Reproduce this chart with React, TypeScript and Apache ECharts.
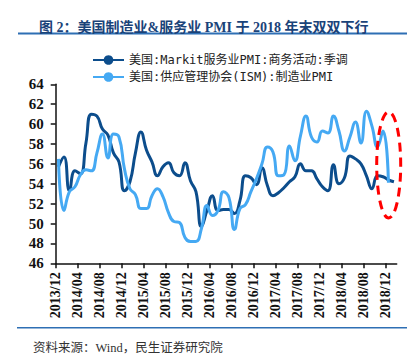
import React, { useEffect, useRef } from "react";
import * as echarts from "echarts";

// Month index 0 = 2013/12; one tick label every 4 months
const tickLabels = [
  "2013/12", "2014/04", "2014/08", "2014/12", "2015/04", "2015/08", "2015/12", "2016/04",
  "2016/08", "2016/12", "2017/04", "2017/08", "2017/12", "2018/04", "2018/08", "2018/12",
];

// 美国:Markit服务业PMI:商务活动:季调, 2013/12 – 2019/01
const markitServices = [
  55.7,
  56.7, 53.3, 55.3, 55.0, 58.1, 61.0, 60.8, 59.5, 58.9, 57.1, 56.2, 53.3,
  54.2, 57.1, 59.2, 57.4, 56.2, 54.8, 55.7, 56.1, 55.1, 54.8, 56.1, 54.3,
  53.2, 49.7, 51.3, 52.8, 51.3, 51.4, 51.4, 51.0, 52.3, 54.8, 54.6, 53.9,
  55.6, 53.8, 52.8, 53.1, 53.6, 54.2, 54.7, 56.0, 55.3, 55.3, 54.5, 53.7,
  53.3, 55.9, 54.0, 54.6, 56.8, 56.5, 56.0, 54.8, 53.5, 54.8, 54.7, 54.4,
  54.2,
];

// 美国:供应管理协会(ISM):制造业PMI, 2013/12 – 2018/12
const ismManufacturing = [
  56.5,
  51.3, 53.2, 53.7, 54.9, 55.4, 55.3, 57.1, 59.0, 56.6, 59.0, 58.7, 55.5,
  53.5, 52.9, 51.5, 51.5, 52.8, 53.5, 52.7, 51.1, 50.2, 50.1, 48.6, 48.2,
  48.2, 49.5, 51.8, 50.8, 51.3, 53.2, 52.6, 49.4, 51.5, 51.9, 53.2, 54.5,
  56.0, 57.7, 57.2, 54.8, 54.9, 57.8, 56.3, 58.8, 60.8, 58.7, 58.2, 59.3,
  59.1, 60.8, 59.3, 57.3, 58.7, 60.2, 58.1, 61.3, 59.8, 57.7, 59.3, 54.1,
];

const seriesNames = ["美国:Markit服务业PMI:商务活动:季调", "美国:供应管理协会(ISM):制造业PMI"];

const TICK_STEP = 4;
const X_MAX = 62;

const serif = "'Liberation Serif', 'Times New Roman', 'Noto Sans CJK SC', serif";
const mono = "'DejaVu Sans Mono', 'Noto Sans CJK SC', monospace";

export default function App() {
  const ref = useRef<HTMLDivElement>(null);

  useEffect(() => {
    if (!ref.current) return;
    const chart = echarts.init(ref.current, undefined, { renderer: "svg" });
    const tickValues = tickLabels.map((_, i) => i * TICK_STEP);
    const toPoints = (arr: number[]) => arr.map((v, i) => [i + 0.5, v]);

    chart.setOption({
      animation: false,
      backgroundColor: "#ffffff",
      title: {
        text: "图 2：美国制造业&服务业 PMI 于 2018 年末双双下行",
        left: 34,
        top: 15,
        textStyle: { fontSize: 14, fontWeight: "bold", color: "#1a4379", fontFamily: serif },
      },
      legend: {
        data: seriesNames,
        orient: "vertical",
        left: 87,
        top: 49,
        itemGap: 5,
        itemWidth: 31,
        itemHeight: 12,
        textStyle: { fontSize: 12, color: "#222", fontFamily: mono },
      },
      grid: { left: 55.7, right: 22.3, top: 84.3, bottom: 99.7, containLabel: false },
      xAxis: {
        type: "value",
        min: 0,
        max: X_MAX,
        interval: TICK_STEP,
        splitLine: { show: false },
        axisLine: { show: true, lineStyle: { color: "#111", width: 1.5 } },
        axisTick: { show: true, length: 5, customValues: tickValues, lineStyle: { color: "#111", width: 1.5 } },
        axisLabel: {
          customValues: tickValues,
          rotate: 90,
          margin: 9,
          fontSize: 14,
          fontWeight: "bold",
          fontFamily: serif,
          color: "#111",
          formatter: (v: number) => tickLabels[Math.round(v / TICK_STEP)] ?? "",
        },
      },
      yAxis: {
        type: "value",
        min: 46,
        max: 64,
        interval: 2,
        splitLine: { show: false },
        axisLine: { show: true, lineStyle: { color: "#111", width: 1.5 } },
        axisTick: { show: true, length: 5, lineStyle: { color: "#111", width: 1.5 } },
        axisLabel: { margin: 12, fontSize: 15, fontWeight: "bold", fontFamily: serif, color: "#111" },
      },
      series: [
        {
          name: seriesNames[0],
          type: "line",
          data: toPoints(markitServices),
          smooth: 0.5,
          symbol: "none",
          lineStyle: { color: "#0c4d8c", width: 3 },
          itemStyle: { color: "#0c4d8c" },
        },
        {
          name: seriesNames[1],
          type: "line",
          data: toPoints(ismManufacturing),
          smooth: 0.5,
          symbol: "none",
          lineStyle: { color: "#45a9f3", width: 3 },
          itemStyle: { color: "#45a9f3" },
        },
      ],
      graphic: [
        { type: "rect", shape: { x: 18, y: 32.5, width: 389, height: 2 }, style: { fill: "#2e6fb4" }, silent: true },
        { type: "rect", shape: { x: 17, y: 327, width: 390, height: 1.5 }, style: { fill: "#2e6fb4" }, silent: true },
        {
          type: "text",
          x: 33,
          y: 348,
          style: {
            text: "资料来源：Wind，民生证券研究院",
            fontSize: 12.5,
            fontFamily: serif,
            fill: "#333",
            verticalAlign: "middle",
          },
          silent: true,
        },
        {
          type: "ellipse",
          shape: { cx: 388.7, cy: 165, rx: 12, ry: 53 },
          style: { fill: "none", stroke: "#ff0000", lineWidth: 3, lineDash: [9, 6] },
          z: 100,
          silent: true,
        },
      ],
    });

    return () => chart.dispose();
  }, []);

  return (
    <div
      ref={ref}
      style={{ position: "absolute", left: 0, top: 0, width: 419, height: 363 }}
    />
  );
}
